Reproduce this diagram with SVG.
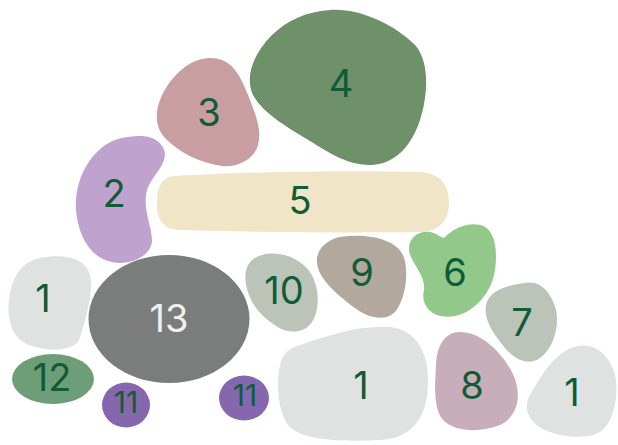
<svg xmlns="http://www.w3.org/2000/svg" width="618" height="445" viewBox="0 0 618 445">
<style>
text{font-family:Inter,"Noto Sans","Liberation Sans",sans-serif;font-size:38px;fill:#0f5c36;text-anchor:middle}
.sm{font-size:30px}
.w{fill:#eef0ee}
.gray{fill:#e0e2e1}
</style>
<rect width="618" height="445" fill="#ffffff"/>
<g id="n4"><path fill="#6e9169" d="M330,10 C360,8 395,25 415,45 C430,62 428,95 420,120 C412,145 395,165 370,165 C345,165 325,150 305,138 C285,126 262,112 253,95 C245,78 252,55 272,35 C288,20 305,12 330,10 Z"/><text x="341" y="97">4</text></g>
<g id="n3"><path fill="#c89ea3" d="M210,58 C232,58 240,75 248,95 C256,115 262,130 258,145 C254,160 236,168 222,166 C200,163 178,152 165,138 C152,124 156,104 166,88 C176,72 192,58 210,58 Z"/><text x="209" y="126">3</text></g>
<g id="n2"><path fill="#bfa2cd" d="M140,136 C158,136 168,148 164,160 C160,172 148,180 146,195 C144,212 152,228 152,240 C152,256 130,266 112,262 C90,258 78,235 76,210 C74,180 90,150 115,140 C124,137 132,136 140,136 Z"/><text x="114" y="207">2</text></g>
<g id="n5"><path fill="#f0e5c6" d="M175,176 C240,172 350,170 420,172 C440,173 449,185 449,202 C449,220 440,232 420,232 C350,233 240,232 180,230 C165,229 157,222 157,205 C157,185 162,177 175,176 Z"/><text x="300" y="214">5</text></g>
<g id="n1a"><path class="gray" d="M40,258 C60,254 85,256 90,275 C94,295 85,320 80,338 C75,350 55,352 35,347 C15,342 6,325 9,300 C12,275 22,262 40,258 Z"/><text x="43" y="312">1</text></g>
<g id="n13"><ellipse cx="169" cy="319" rx="80.5" ry="64" fill="#7a7d7b"/><text class="w" x="169" y="332">13</text></g>
<g id="n10"><path fill="#bcc4ba" d="M262,255 C280,250 300,258 310,272 C320,287 320,310 312,322 C304,334 288,334 276,326 C262,317 250,305 246,285 C243,268 250,258 262,255 Z"/><text x="284" y="304">10</text></g>
<g id="n12"><ellipse cx="53" cy="379" rx="41" ry="25" fill="#6e9e78"/><text x="52" y="391">12</text></g>
<g id="n11a"><ellipse cx="126" cy="405" rx="24" ry="22.5" fill="#8567ad"/><text class="sm" x="126" y="413">11</text></g>
<g id="n11b"><ellipse cx="244" cy="398" rx="25" ry="22.5" fill="#8567ad"/><text class="sm" x="245" y="406">11</text></g>
<g id="n1b"><path class="gray" d="M300,345 C330,335 360,325 390,327 C415,330 428,350 428,380 C428,415 415,438 380,440 C340,442 300,440 288,425 C278,410 276,385 280,365 C283,352 290,348 300,345 Z"/><text x="361" y="399">1</text></g>
<g id="n9"><path fill="#b2a89e" d="M340,237 C365,233 395,238 403,255 C410,272 405,300 395,312 C385,322 368,318 355,308 C340,297 322,282 318,268 C313,252 325,240 340,237 Z"/><text x="362" y="286">9</text></g>
<g id="n6"><path fill="#92c98a" d="M444,238 C452,230 465,222 480,225 C495,228 498,250 495,270 C492,292 475,312 455,316 C432,320 420,305 424,290 C426,275 410,262 409,250 C408,237 420,230 430,232 C436,233 440,237 444,238 Z"/><text x="455" y="286">6</text></g>
<g id="n7"><path fill="#bcc4ba" d="M525,283 C542,280 552,295 556,310 C560,328 552,350 540,358 C528,366 515,360 505,348 C495,336 483,320 486,305 C489,290 508,285 525,283 Z"/><text x="522" y="336">7</text></g>
<g id="n8"><path fill="#c7aeba" d="M460,332 C480,332 500,350 512,372 C522,392 520,415 500,425 C480,433 455,432 443,420 C433,408 435,385 436,365 C437,345 445,332 460,332 Z"/><text x="472" y="399">8</text></g>
<g id="n1c"><path class="gray" d="M578,346 C595,343 610,355 615,375 C620,398 612,425 600,432 C585,440 560,437 545,430 C530,423 522,410 530,395 C540,378 555,350 578,346 Z"/><text x="572" y="406">1</text></g>
</svg>
